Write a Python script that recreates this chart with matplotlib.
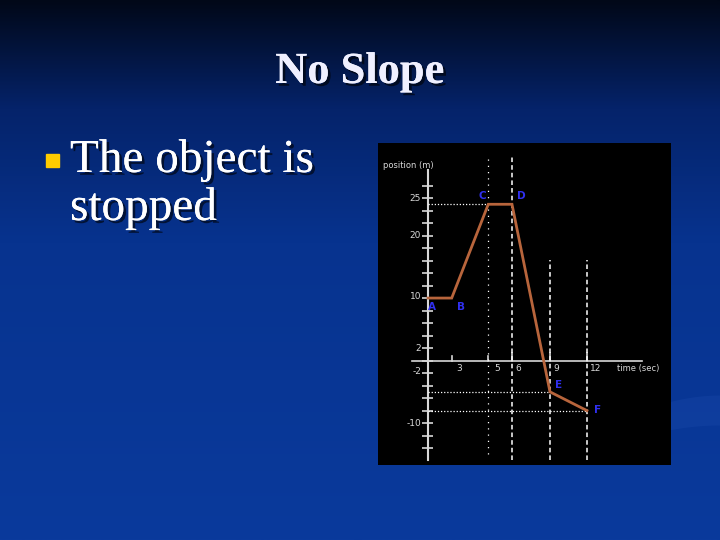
import numpy as np
import matplotlib
matplotlib.use("Agg")
import matplotlib.pyplot as plt
import matplotlib.patheffects as pe
from matplotlib.colors import LinearSegmentedColormap

# position-time graph data
points = ["A", "B", "C", "D", "E", "F"]
times = [0, 3, 5, 6, 9, 12]
positions = [10, 10, 25, 25, -5, -8]
time_ticks = [3, 5, 6, 9, 12]
time_labels = ["3", "5", "6", "9", "12"]
pos_label_vals = [26, 20, 10.2, 2, -1.8, -10]
pos_labels = ["25", "20", "10", "2", "-2", "-10"]

# the drawing's time axis is not evenly spaced, so warp it piecewise
warp_t = np.array([-20.0, 0, 3, 5, 6, 9, 12, 40])
warp_u = np.array([257.0, 428, 451.7, 488.3, 512, 550, 587, 928.6])


def fwd(t):
    return np.interp(t, warp_t, warp_u)


def inv(u):
    return np.interp(u, warp_u, warp_t)


fig = plt.figure(figsize=(7.2, 5.4), dpi=100)

# slide background
bg = fig.add_axes([0, 0, 1, 1])
bg.set_xlim(0, 720)
bg.set_ylim(540, 0)
bg.axis("off")
cmap = LinearSegmentedColormap.from_list(
    "slide", [(0, "#010818"), (0.2, "#05236a"), (0.45, "#07338f"), (1, "#0a3a9c")])
grad = np.linspace(0, 1, 256).reshape(-1, 1)
bg.imshow(grad, cmap=cmap, aspect="auto", extent=[0, 720, 540, 0], zorder=0)

# faint swoosh at lower right
sx = np.linspace(560, 720, 60)
bg.fill_between(sx, 465 - 40 * np.sin((sx - 560) / 160 * np.pi / 2),
                450 - 55 * np.sin((sx - 560) / 160 * np.pi / 2),
                color="#3a6ad0", alpha=0.12, lw=0, zorder=1)

shadow = [pe.withSimplePatchShadow(offset=(2, -2), shadow_rgbFace="black", alpha=0.6), pe.Normal()]
bg.text(360, 83, "No Slope", ha="center", va="baseline", fontsize=32,
        fontweight="bold", family="Liberation Serif", color="#f0f0ff",
        path_effects=shadow, zorder=3)
bg.add_patch(plt.Rectangle((46, 154), 13, 13, color="#ffcc00", zorder=3))
bg.text(70, 172, "The object is", ha="left", va="baseline", fontsize=34,
        family="Liberation Serif", color="white", path_effects=shadow, zorder=3)
bg.text(70, 220, "stopped", ha="left", va="baseline", fontsize=34,
        family="Liberation Serif", color="white", path_effects=shadow, zorder=3)

# graph panel
ax = fig.add_axes([378 / 720, (540 - 465) / 540, (671 - 378) / 720, (465 - 143) / 540])
ax.set_facecolor("black")
ax.set_xscale("function", functions=(fwd, inv))
ax.set_xlim(-5.85, 18.89)
ax.set_ylim(-16.7, 34.8)
ax.set_xticks([])
ax.set_yticks([])
for s in ax.spines.values():
    s.set_visible(False)

grey = "#d8d8d8"
# axes of the drawing
ax.plot([0, 0], [-15.9, 30.5], color=grey, lw=1.5)
ax.plot([-1.87, 16.5], [0, 0], color=grey, lw=1.2)
ytk = np.arange(-14, 29, 2)
ax.hlines(ytk, -0.65, 0.6, color=grey, lw=1.2)
for t in time_ticks:
    h = 0.7 if t < 6 else 1.2
    ax.plot([t, t], [0, h], color=grey, lw=1.2)
for t, lab in zip(time_ticks, time_labels):
    ax.text(t + 0.25, -1.3, lab, fontsize=6.5, color=grey, ha="left", va="center")
for v, lab in zip(pos_label_vals, pos_labels):
    ax.text(-0.8, v, lab, fontsize=6.5, color=grey, ha="right", va="center")
ax.text(-5.3, 31.2, "position (m)", fontsize=6, color=grey, ha="left", va="center")
ax.text(14.5, -1.3, "time (sec)", fontsize=6, color=grey, ha="left", va="center")

# guide lines
dot = (0, (1, 1.5))
dash = (0, (3, 2))
ax.plot([0, times[2]], [positions[2]] * 2, color="white", lw=0.9, ls=dot)
ax.plot([0, times[4]], [positions[4]] * 2, color="white", lw=0.9, ls=dot)
ax.plot([0, times[5]], [positions[5]] * 2, color="white", lw=0.9, ls=dot)
ax.plot([times[2]] * 2, [-15, 32.9], color="white", lw=0.9, ls=(0, (1, 4)))
ax.plot([times[3]] * 2, [-15.9, 32.9], color="white", lw=1.1, ls=dash)
ax.plot([times[4]] * 2, [-15.9, 16.1], color="white", lw=1.1, ls=dash)
ax.plot([times[5]] * 2, [-15.9, 16.1], color="white", lw=1.1, ls=dash)

# motion line
ax.plot(times, positions, color="#b8653c", lw=2, solid_joinstyle="miter", zorder=5)

offsets = [(4, -9), (9, -9), (-6, 8), (9, 8), (9, 7), (11, 1)]
for name, t, p, off in zip(points, times, positions, offsets):
    ax.annotate(name, (t, p), xytext=off, textcoords="offset pixels",
                fontsize=7.5, fontweight="bold", color="#3030f0",
                ha="center", va="center", zorder=6)

fig.savefig("out.png", dpi=100)
